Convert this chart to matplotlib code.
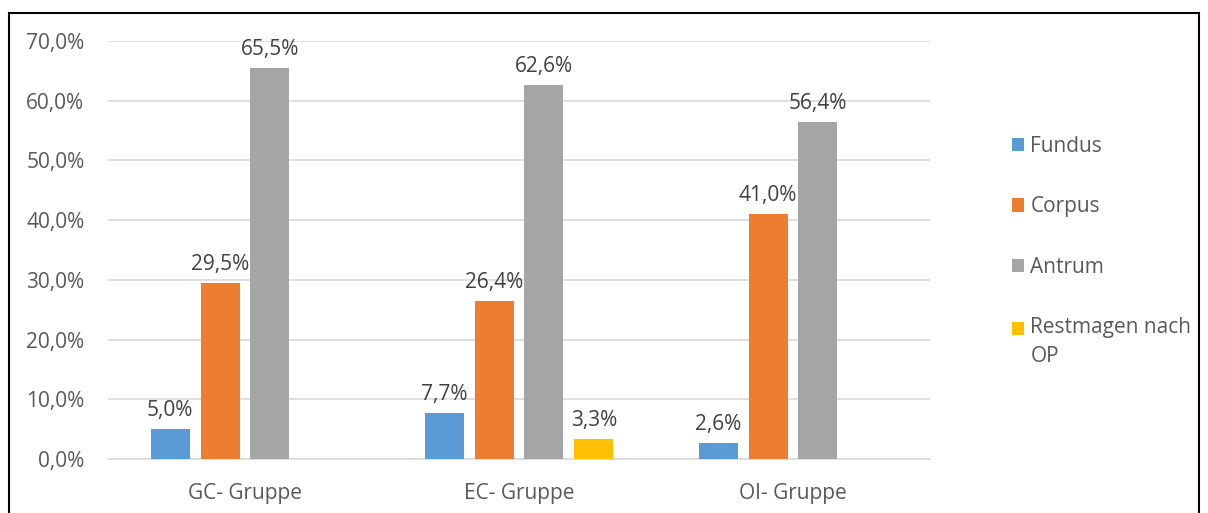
import numpy as np
import matplotlib.pyplot as plt
from matplotlib.patches import Rectangle

groups = ['GC- Gruppe', 'EC- Gruppe', 'OI- Gruppe']
series = ['Fundus', 'Corpus', 'Antrum', 'Restmagen nach\nOP']
fundus = [5.0, 7.7, 2.6]
corpus = [29.5, 26.4, 41.0]
antrum = [65.5, 62.6, 56.4]
restmagen = [0.0, 3.3, 0.0]
colors = ['#5B9BD5', '#ED7D31', '#A5A5A5', '#FFC000']

plt.rcParams['font.family'] = ['Open Sans', 'DejaVu Sans']
txt = '#595959'

fig = plt.figure(figsize=(12.08, 5.13), dpi=100)
ax = fig.add_axes([108/1208, 1-459/513, (930-108)/1208, (459-41)/513])

x = np.arange(len(groups))
w = 0.142
step = 0.182
offs = np.array([-1.5, -0.5, 0.5, 1.5]) * step
handles = []
for i, vals in enumerate([fundus, corpus, antrum, restmagen]):
    b = ax.bar(x + offs[i], vals, w, color=colors[i], label=series[i], zorder=3)
    handles.append(b)
    for xi, v in zip(x + offs[i], vals):
        if v > 0:
            ax.annotate(f'{v:.1f}%'.replace('.', ','), (xi, v), xytext=(0, 6),
                        textcoords='offset points', ha='center', va='bottom',
                        fontsize=15, color='#404040')

ax.set_xlim(-0.5, 2.5)
ax.set_ylim(0, 70)
ax.set_yticks(np.arange(0, 71, 10))
ax.set_yticklabels([f'{t:.1f}%'.replace('.', ',') for t in np.arange(0, 71, 10)])
ax.set_xticks(x)
ax.set_xticklabels(groups)
ax.tick_params(length=0, labelsize=15, colors=txt)
ax.tick_params(axis='y', pad=17)
ax.tick_params(axis='x', pad=17)
ax.grid(axis='y', color='#D9D9D9', linewidth=1.2, zorder=0)
for s in ['top', 'right', 'left']:
    ax.spines[s].set_visible(False)
ax.spines['bottom'].set_color('#D9D9D9')
ax.spines['bottom'].set_linewidth(1.2)

leg = fig.legend(handles=handles, labels=series, loc='upper left',
                 bbox_to_anchor=(993/1208, 1-117/513), frameon=False,
                 fontsize=15, labelcolor=txt, handlelength=0.6, handleheight=0.6,
                 handletextpad=0.3, labelspacing=1.9)
for t in leg.get_texts():
    t.set_linespacing(1.45)
# square of the two-line entry sits on the first line
last = leg.legend_handles[3]
last.set_y(last.get_y() + 10)

fig.patches.append(Rectangle((9/1208, -0.01), 1190/1208, 1-13/513 + 0.01,
                             transform=fig.transFigure, fill=False,
                             edgecolor='black', linewidth=1.5))

fig.savefig('out.png', dpi=100)
